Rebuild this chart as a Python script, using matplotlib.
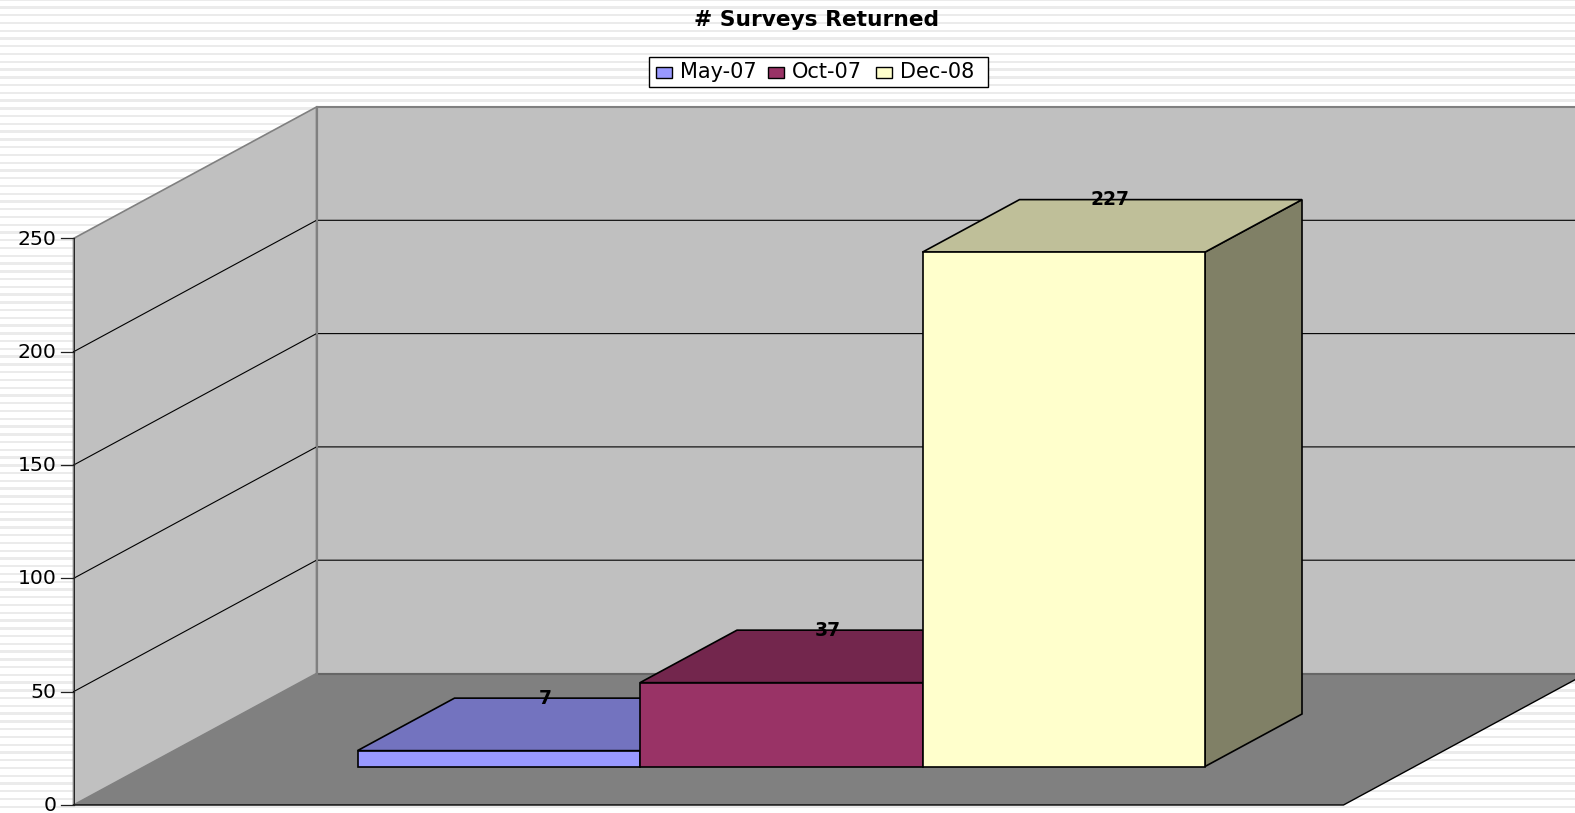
import numpy as np
import matplotlib
matplotlib.use("Agg")
import matplotlib.pyplot as plt
from matplotlib.patches import Polygon, Rectangle

title = "# Surveys Returned"
series_names = ["May-07", "Oct-07", "Dec-08"]
series_values = [7, 37, 227]
series_colors = ["#9999ff", "#993366", "#ffffcc"]
top_colors = ["#7373bf", "#73264d", "#bfbf99"]
side_colors = ["#4d4d80", "#4d1a33", "#808066"]
y_ticks = [0, 50, 100, 150, 200, 250]

W, H = 1575, 813
FRONT_X, BASE_Y = 73.5, 805.0
BACK_DX, BACK_DY = 243.0, -131.5
FLOOR_W = 1270.0
PX_PER_UNIT = 113.3 / 50
BAR_X0, BAR_W = 357.5, 282.5
BAR_BASE = 766.5
BAR_DX, BAR_DY = 97.0, -52.5


def py(v, base=BASE_Y):
    return base - v * PX_PER_UNIT


fig = plt.figure(figsize=(W / 100, H / 100), dpi=100)
ax = fig.add_axes([0, 0, 1, 1])
ax.set_xlim(0, W)
ax.set_ylim(H, 0)
ax.axis("off")

# striped slide background
for y in np.arange(-0.26, H, 7.76):
    ax.axhspan(y - 1.2, y + 1.2, color="#ebebeb", lw=0, zorder=0)

x0, x1 = FRONT_X, FRONT_X + FLOOR_W
bx0, bx1 = x0 + BACK_DX, x1 + BACK_DX
by = BASE_Y + BACK_DY
top = y_ticks[-1]

# walls and floor
ax.add_patch(Polygon([(bx0, py(top, by)), (bx1, py(top, by)), (bx1, by), (bx0, by)],
                     fc="#c0c0c0", ec="#808080", lw=1.5, zorder=1))
ax.add_patch(Polygon([(x0, py(top)), (bx0, py(top, by)), (bx0, by), (x0, BASE_Y)],
                     fc="#c0c0c0", ec="#808080", lw=1.2, zorder=1))
ax.add_patch(Polygon([(x0, BASE_Y), (bx0, by), (bx1, by), (x1, BASE_Y)],
                     fc="#808080", ec="none", zorder=2))
ax.plot([bx0, bx1], [by, by], color="#666666", lw=1.5, zorder=2)
ax.plot([x0, x1, bx1], [BASE_Y, BASE_Y, by], color="black", lw=1, zorder=3)

# gridlines and ticks
for v in y_ticks[1:-1]:
    ax.plot([x0, bx0, bx1], [py(v), py(v, by), py(v, by)], color="black", lw=0.8, zorder=2)
ax.plot([bx0, bx0], [py(top, by), by], color="#808080", lw=1.5, zorder=2)
ax.plot([x0, x0], [py(top), BASE_Y], color="#222222", lw=0.7, zorder=3)
for v in y_ticks:
    ax.plot([x0 - 13, x0], [py(v), py(v)], color="#222222", lw=0.9, zorder=3)
    ax.text(x0 - 17, py(v) + 0.5, str(v), ha="right", va="center", fontsize=14.7,
            family="DejaVu Sans", zorder=3)

# bars, drawn left to right so each hides the side of the one before
for i, val in enumerate(series_values):
    left = BAR_X0 + i * BAR_W
    right = left + BAR_W
    ytop = py(val, BAR_BASE)
    z = 4 + i
    ax.add_patch(Polygon([(right, BAR_BASE), (right + BAR_DX, BAR_BASE + BAR_DY),
                          (right + BAR_DX, ytop + BAR_DY), (right, ytop)],
                         fc=side_colors[i], ec="black", lw=1.2, zorder=z))
    ax.add_patch(Polygon([(left, ytop), (left + BAR_DX, ytop + BAR_DY),
                          (right + BAR_DX, ytop + BAR_DY), (right, ytop)],
                         fc=top_colors[i], ec="black", lw=1.2, zorder=z))
    ax.add_patch(Rectangle((left, ytop), BAR_W, BAR_BASE - ytop,
                           fc=series_colors[i], ec="black", lw=1.2, zorder=z))
    ax.text(left + BAR_W / 2 + BAR_DX / 2 - 2, ytop + BAR_DY, str(val), ha="center", va="center",
            fontsize=13.5, fontweight="bold", family="DejaVu Sans", zorder=10)

ax.text(817, 20, title, ha="center", va="center", fontsize=15.7, fontweight="bold",
        family="DejaVu Sans", zorder=10)

# legend built by hand to sit in its boxed row
ax.add_patch(Rectangle((648.5, 57.5), 339, 30, fc="white", ec="black", lw=1, zorder=10))
swatches = [656, 767.5, 876]
for sx, name, col in zip(swatches, series_names, series_colors):
    ax.add_patch(Rectangle((sx, 67.5), 16, 11, fc=col, ec="black", lw=1, zorder=11))
    ax.text(sx + 24.5, 72.5, name, ha="left", va="center", fontsize=15,
            family="DejaVu Sans", zorder=11)

fig.savefig("out.png", dpi=100)
